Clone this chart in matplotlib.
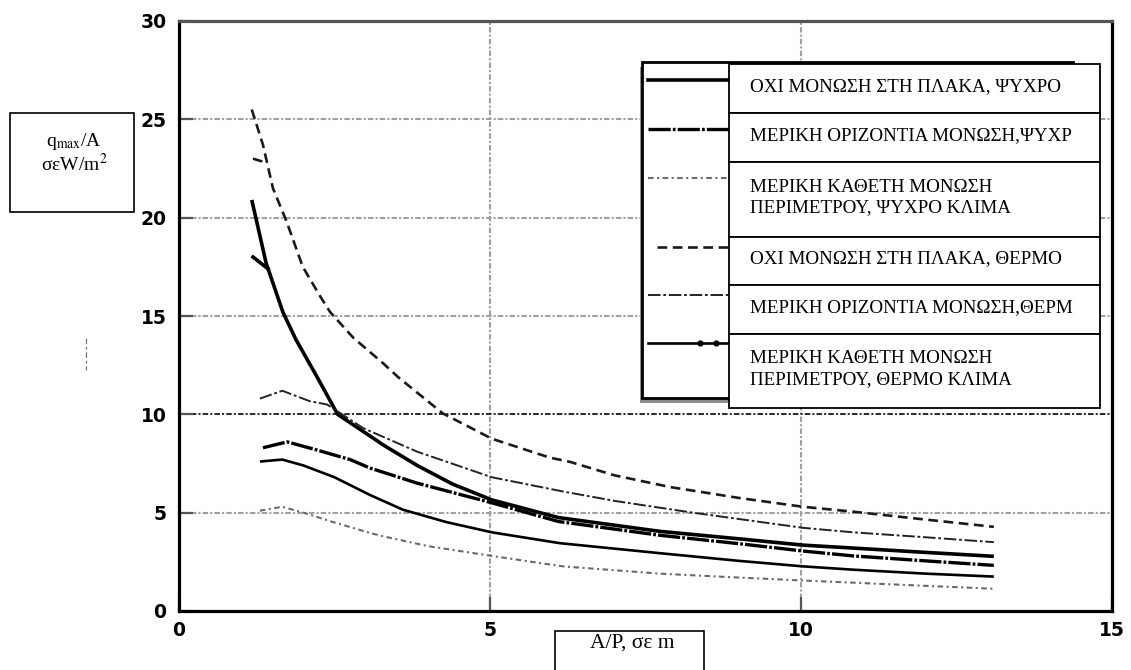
import matplotlib
matplotlib.use("Agg")
import matplotlib.pyplot as plt
from matplotlib.lines import Line2D
from matplotlib.patches import Rectangle

# ---- data -------------------------------------------------------------
series_labels = [
    "ΟΧΙ ΜΟΝΩΣΗ ΣΤΗ ΠΛΑΚΑ, ΨΥΧΡΟ",
    "ΜΕΡΙΚΗ ΟΡΙΖΟΝΤΙΑ ΜΟΝΩΣΗ,ΨΥΧΡ",
    "ΜΕΡΙΚΗ ΚΑΘΕΤΗ ΜΟΝΩΣΗ\nΠΕΡΙΜΕΤΡΟΥ, ΨΥΧΡΟ ΚΛΙΜΑ",
    "ΟΧΙ ΜΟΝΩΣΗ ΣΤΗ ΠΛΑΚΑ, ΘΕΡΜΟ",
    "ΜΕΡΙΚΗ ΟΡΙΖΟΝΤΙΑ ΜΟΝΩΣΗ,ΘΕΡΜ",
    "ΜΕΡΙΚΗ ΚΑΘΕΤΗ ΜΟΝΩΣΗ\nΠΕΡΙΜΕΤΡΟΥ, ΘΕΡΜΟ ΚΛΙΜΑ",
]

cold_none_x = [1.17, 1.40, 1.67, 1.88, 2.22, 2.55, 3.07, 3.28, 3.83, 4.40, 5.03,
               6.10, 7.73, 9.07, 10.03, 10.84, 12.0, 13.1]
cold_none_y = [20.9, 17.7, 15.2, 13.8, 11.9, 10.0, 8.9, 8.45, 7.4, 6.45, 5.65,
               4.75, 4.05, 3.65, 3.35, 3.2, 2.98, 2.78]
cold_none_stub_x = [1.19, 1.43]
cold_none_stub_y = [18.0, 17.4]

cold_horiz_x = [1.35, 1.74, 2.20, 2.75, 3.07, 3.83, 5.03, 6.10, 7.73, 9.07,
                10.03, 10.84, 12.0, 13.1]
cold_horiz_y = [8.3, 8.6, 8.2, 7.7, 7.27, 6.5, 5.5, 4.55, 3.85, 3.4,
                3.05, 2.8, 2.55, 2.32]

cold_vert_x = [1.30, 1.66, 2.00, 2.50, 3.07, 3.28, 4.00, 5.03, 6.17, 7.73,
               9.00, 10.03, 10.84, 12.0, 13.1]
cold_vert_y = [5.1, 5.3, 5.0, 4.5, 3.97, 3.8, 3.3, 2.8, 2.27, 1.9,
               1.7, 1.55, 1.44, 1.28, 1.13]

warm_none_x = [1.17, 1.35, 1.51, 1.73, 1.99, 2.27, 2.43, 2.80, 3.28, 3.52, 4.24,
               5.03, 5.96, 6.29, 7.00, 7.90, 9.00, 10.03, 10.84, 12.0, 13.1]
warm_none_y = [25.5, 23.7, 21.5, 19.8, 17.5, 16.0, 15.2, 13.9, 12.6, 11.9, 10.05,
               8.76, 7.8, 7.58, 6.9, 6.3, 5.75, 5.3, 5.05, 4.65, 4.28]
warm_none_stub_x = [1.19, 1.40]
warm_none_stub_y = [23.0, 22.8]

warm_horiz_x = [1.30, 1.66, 2.10, 2.38, 2.96, 3.83, 5.03, 6.17, 7.00, 8.26,
                10.03, 10.84, 12.0, 13.1]
warm_horiz_y = [10.8, 11.2, 10.67, 10.5, 9.3, 8.1, 6.8, 6.08, 5.6, 5.0,
                4.23, 4.0, 3.75, 3.5]

warm_vert_x = [1.30, 1.66, 2.00, 2.50, 3.07, 3.60, 4.30, 5.03, 6.12, 7.73,
               9.00, 10.03, 10.84, 12.0, 13.1]
warm_vert_y = [7.6, 7.7, 7.4, 6.8, 5.9, 5.15, 4.52, 4.0, 3.45, 2.94,
               2.55, 2.27, 2.1, 1.9, 1.75]

x_ticks = [0, 5, 10, 15]
y_ticks = [0, 5, 10, 15, 20, 25, 30]

y_label = "q$_{\\mathrm{max}}$/A\nσεW/m$^{2}$"
x_label = "A/P, σε m"

# ---- styles -----------------------------------------------------------
plt.rcParams["font.family"] = ["Liberation Serif", "DejaVu Serif"]
plt.rcParams["mathtext.fontset"] = "stix"
plt.rcParams["lines.scale_dashes"] = False

styles = [
    dict(color="black", lw=2.6, linestyle="-"),
    dict(color="black", lw=2.4, linestyle=(0, (16, 1.5, 2, 1.5))),
    dict(color="#6a6a6a", lw=1.5, linestyle=(0, (4, 2.5, 1.5, 2.5))),
    dict(color="#1a1a1a", lw=1.9, linestyle=(0, (7, 4))),
    dict(color="#222222", lw=1.4, linestyle=(0, (9, 2, 2, 2))),
    dict(color="black", lw=1.9, linestyle="-"),
]

W, H = 1131, 670
fig = plt.figure(figsize=(W / 100, H / 100), dpi=100)


def fx(px):
    return px / W


def fy(py):
    return 1 - py / H


ax = fig.add_axes([fx(179), fy(611), (1112 - 179) / W, (611 - 21) / H])
ax.set_xlim(0, 15)
ax.set_ylim(0, 30)
ax.set_xticks(x_ticks)
ax.set_yticks(y_ticks)

ax.grid(True, color="#a0a0a0", linewidth=1.5,
        linestyle=(0, (4, 1.5, 1.5, 1.5)), zorder=0)
for val, gl in zip(ax.get_yticks(), ax.get_ygridlines()):
    if val == 10:
        gl.set_color("#2a2a2a")
        gl.set_linewidth(1.4)
ax.set_axisbelow(True)

ax.tick_params(direction="in", length=10, width=1.6, color="#555555")
ax.tick_params(axis="x", pad=7)
ax.tick_params(axis="y", pad=9)
for lab in ax.get_xticklabels() + ax.get_yticklabels():
    lab.set_fontfamily("DejaVu Sans")
    lab.set_fontweight("bold")
    lab.set_fontsize(13.5)

for side in ("left", "bottom", "right"):
    ax.spines[side].set_linewidth(2.3)
    ax.spines[side].set_color("black")
ax.spines["top"].set_linewidth(2.3)
ax.spines["top"].set_color("#555555")

# ---- curves -----------------------------------------------------------
curves = [
    (cold_none_x, cold_none_y),
    (cold_horiz_x, cold_horiz_y),
    (cold_vert_x, cold_vert_y),
    (warm_none_x, warm_none_y),
    (warm_horiz_x, warm_horiz_y),
    (warm_vert_x, warm_vert_y),
]
for (xs, ys), st in zip(curves, styles):
    ax.plot(xs, ys, solid_capstyle="butt", dash_capstyle="butt", zorder=3, **st)

ax.plot(cold_none_stub_x, cold_none_stub_y, zorder=3, **styles[0])
ax.plot(warm_none_stub_x, warm_none_stub_y, zorder=3, **styles[3])

# ---- legend panel -----------------------------------------------------
fig.add_artist(Rectangle((fx(640), fy(403)), (1071 - 640) / W, (403 - 67) / H,
                         transform=fig.transFigure, facecolor="#8c8c8c",
                         edgecolor="none", zorder=5))
fig.add_artist(Rectangle((fx(642), fy(398)), (1073 - 642) / W, (398 - 62) / H,
                         transform=fig.transFigure, facecolor="white",
                         edgecolor="black", lw=2.0, zorder=6))

row_edges = [64, 113, 162, 237, 285, 334, 408]
sample_y = [80, 129, 178, 247, 295, 343]
sample_x0 = [648, 648, 648, 657, 648, 648]

for i, (label, st) in enumerate(zip(series_labels, styles)):
    extra = {}
    if i == 5:
        extra = dict(marker="o", markersize=3.5, markevery=[1, 2, 3],
                     markerfacecolor="black", markeredgecolor="black")
    xs = [fx(sample_x0[i]), fx(700), fx(716), fx(732)]
    ys = [fy(sample_y[i])] * 4
    fig.add_artist(Line2D(xs, ys, transform=fig.transFigure, zorder=7,
                          **st, **extra))

for i, label in enumerate(series_labels):
    top, bot = row_edges[i], row_edges[i + 1]
    fig.add_artist(Rectangle((fx(729), fy(bot)), (1100 - 729) / W, (bot - top) / H,
                             transform=fig.transFigure, facecolor="white",
                             edgecolor="black", lw=1.3, zorder=8))
    fig.text(fx(750), fy((top + bot) / 2 - 2), label, ha="left", va="center",
             fontsize=13.7, linespacing=1.25, zorder=9)

# ---- axis label boxes -------------------------------------------------
fig.add_artist(Rectangle((fx(10), fy(212)), (134 - 10) / W, (212 - 113) / H,
                         transform=fig.transFigure, facecolor="white",
                         edgecolor="black", lw=1.2, zorder=8))
fig.text(fx(74), fy(153), y_label, ha="center", va="center",
         multialignment="center", fontsize=14, linespacing=1.05, zorder=9)

fig.add_artist(Rectangle((fx(555), fy(690)), (704 - 555) / W, (690 - 631) / H,
                         transform=fig.transFigure, facecolor="white",
                         edgecolor="black", lw=1.2, zorder=8, clip_on=False))
fig.text(fx(632), fy(648), x_label, ha="center", va="baseline",
         fontsize=15.5, zorder=9)

fig.add_artist(Line2D([fx(86), fx(86)], [fy(338), fy(370)],
                      transform=fig.transFigure, color="#777777", lw=0.9,
                      linestyle=(0, (4, 2, 2, 2)), zorder=5))

fig.savefig("out.png", dpi=100)
